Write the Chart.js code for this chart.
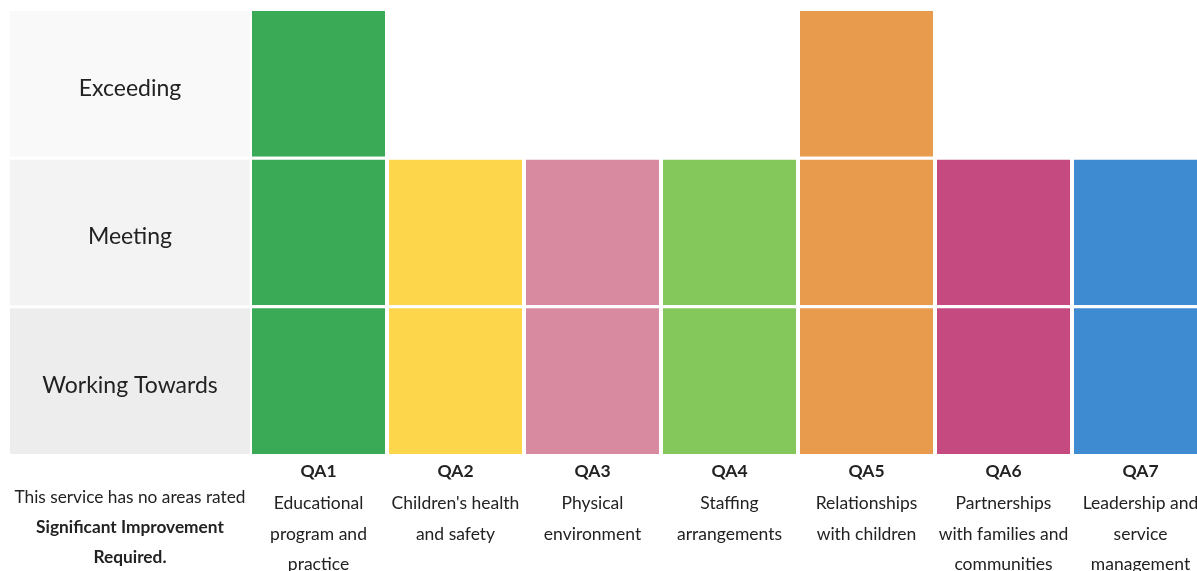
<!DOCTYPE html>
<html>
<head>
<meta charset="utf-8">
<script src="https://cdn.jsdelivr.net/npm/chart.js@4.4.1/dist/chart.umd.min.js"></script>
<style>
  html, body { margin: 0; padding: 0; background: #ffffff; overflow: hidden; }
  #wrap { position: relative; width: 1209px; height: 571px; }
  #note {
    position: absolute; left: 10px; top: 482px; width: 240px;
    text-align: center; font-family: Lato, "Open Sans", sans-serif;
    font-size: 17.3px; line-height: 30px; color: #222;
  }
</style>
</head>
<body>
<div id="wrap">
  <canvas id="c" width="1209" height="571"></canvas>
  <div id="note">This service has no areas rated<br><b>Significant Improvement<br>Required.</b></div>
</div>
<script>
// ---- data ----
const qaCodes = ['QA1', 'QA2', 'QA3', 'QA4', 'QA5', 'QA6', 'QA7'];
const qaNames = [
  ['Educational', 'program and', 'practice'],
  ["Children's health", 'and safety'],
  ['Physical', 'environment'],
  ['Staffing', 'arrangements'],
  ['Relationships', 'with children'],
  ['Partnerships', 'with families and', 'communities'],
  ['Leadership and', 'service', 'management']
];
const levelLabels = ['Working Towards', 'Meeting', 'Exceeding'];   // bottom to top
const workingTowards = [1, 1, 1, 1, 1, 1, 1];
const meeting        = [1, 1, 1, 1, 1, 1, 1];
const exceeding      = [1, null, null, null, 1, null, null];
const qaColors = ['#3aaa56', '#fdd64c', '#d88aa0', '#84c85c', '#e99b4d', '#c44a80', '#3e8bd2'];
const rowPanelColors = ['#ededed', '#f3f3f3', '#f9f9f9'];

// ---- styling ----
const FONT = 'Lato, "Open Sans", sans-serif';
const rowFont = { family: FONT, size: 23 };
const mctx = document.createElement('canvas').getContext('2d');
mctx.font = rowFont.size + 'px ' + FONT;
const widest = Math.max(...levelLabels.map(t => mctx.measureText(t).width));
const yLabelPad = 120 - widest / 2;

const rowPanels = {
  id: 'rowPanels',
  beforeDraw(chart) {
    const y = chart.scales.y, ctx = chart.ctx;
    ctx.save();
    for (let i = 0; i < levelLabels.length; i++) {
      const top = y.getPixelForValue(i + 1) + 3;
      const bot = y.getPixelForValue(i);
      ctx.fillStyle = rowPanelColors[i];
      ctx.fillRect(10, top, 240, bot - top);
    }
    ctx.restore();
  }
};

const seriesList = [workingTowards, meeting, exceeding];
const datasets = seriesList.map((arr, k) => ({
  label: levelLabels[k],
  data: arr,
  backgroundColor: qaColors,
  borderColor: '#ffffff',
  borderWidth: { top: 3, left: 0, right: 0, bottom: 0 },
  borderSkipped: false,
  categoryPercentage: 133 / 137,
  barPercentage: 1,
  stack: 'rating'
}));

new Chart(document.getElementById('c'), {
  type: 'bar',
  data: { labels: qaCodes, datasets },
  plugins: [rowPanels],
  options: {
    responsive: false,
    animation: false,
    layout: { padding: { left: 10, top: 8, right: 0, bottom: 0 } },
    plugins: { legend: { display: false }, tooltip: { enabled: false } },
    scales: {
      x: {
        stacked: true,
        position: 'bottom',
        grid: { display: false, drawTicks: false },
        border: { display: false },
        ticks: { color: '#222', font: { family: FONT, size: 17.5, weight: 'bold' }, padding: 7, maxRotation: 0, autoSkip: false },
        afterFit(s) { s.height = 33; s.paddingLeft = 0; s.paddingRight = 0; }
      },
      x2: {
        type: 'category',
        labels: qaNames,
        offset: true,
        position: 'bottom',
        grid: { display: false, drawTicks: false },
        border: { display: false },
        ticks: { color: '#222', font: { family: FONT, size: 17.5, lineHeight: 1.75 }, padding: 1, maxRotation: 0, autoSkip: false },
        afterFit(s) { s.height = 84; s.paddingLeft = 0; s.paddingRight = 0; }
      },
      y: {
        stacked: true,
        min: 0,
        max: 3,
        grid: { display: false, drawTicks: false },
        border: { display: false },
        afterBuildTicks(s) { s.ticks = levelLabels.map((_, i) => ({ value: i + 0.5 })); },
        ticks: {
          color: '#222',
          font: rowFont,
          crossAlign: 'center',
          padding: yLabelPad,
          labelOffset: 6,
          callback: (v, i) => levelLabels[i]
        },
        afterFit(s) { s.width = 240; s.paddingTop = 0; s.paddingBottom = 0; }
      }
    }
  }
});
</script>
</body>
</html>
